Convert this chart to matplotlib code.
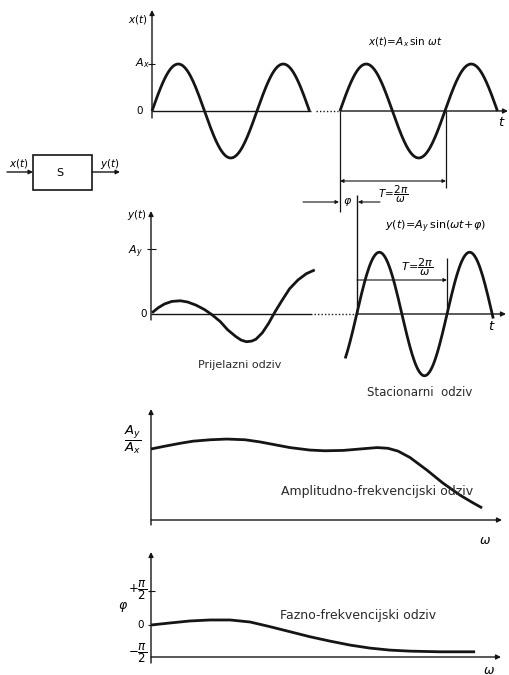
import numpy as np
import matplotlib.pyplot as plt
from matplotlib.patches import Rectangle

plt.rcParams['mathtext.fontset'] = 'dejavusans'
plt.rcParams['font.family'] = 'DejaVu Sans'

# ulazni signal x(t): dva komada sinusa (vrijeme u periodama, amplituda u A_x)
x_segments = [(0.0, 1.5), (1.79, 3.29)]
x_amp = 1.0

# prijelazni odziv (ocitano sa slike), t u periodama, y u A_y
trans_t = [0.0, 0.06, 0.12, 0.19, 0.27, 0.34, 0.42, 0.50, 0.57, 0.65, 0.72, 0.80,
           0.85, 0.90, 0.95, 0.99, 1.05, 1.11, 1.17, 1.24, 1.31, 1.39, 1.47, 1.55]
trans_y = [0.02, 0.10, 0.16, 0.20, 0.21, 0.19, 0.14, 0.07, -0.01, -0.12, -0.25, -0.36,
           -0.415, -0.44, -0.43, -0.40, -0.30, -0.15, 0.03, 0.22, 0.40, 0.54, 0.64, 0.70]

# stacionarni odziv y(t) = A_y sin(wt + phi)
y_start, y_end = 1.84, 3.25
y_zero = 1.95
y_period = 0.86
y_amp = 0.98

# amplitudno-frekvencijski odziv: omega (proizvoljne jedinice), A_y/A_x
amp_w = [0.0, 0.4, 0.83, 1.2, 1.69, 2.17, 2.69, 3.11, 3.54, 3.97, 4.54, 4.97,
         5.49, 5.97, 6.46, 6.77, 7.06, 7.4, 7.89, 8.34, 8.83, 9.17, 9.46]
amp_r = [1.0, 1.04, 1.08, 1.11, 1.13, 1.14, 1.13, 1.10, 1.06, 1.02, 0.985, 0.975,
         0.98, 1.0, 1.02, 1.01, 0.97, 0.88, 0.70, 0.52, 0.35, 0.25, 0.17]

# fazno-frekvencijski odziv: phi u jedinicama pi/2
ph_w = [0.0, 0.54, 1.11, 1.69, 2.26, 2.83, 3.4, 3.97, 4.54, 5.11, 5.69, 6.26,
        6.83, 7.4, 8.26, 9.26]
ph_p = [0.0, 0.06, 0.12, 0.15, 0.15, 0.09, -0.05, -0.20, -0.35, -0.48, -0.60, -0.69,
        -0.75, -0.78, -0.80, -0.80]


def px_top(t, v):
    return 152 + 105 * np.asarray(t), 111 - 47 * np.asarray(v)

def px_y(t, v):
    return 152 + 105 * np.asarray(t), 314 - 63 * np.asarray(v)

def px_amp(w, r):
    return 151 + 35 * np.asarray(w), 520 - 71 * np.asarray(r)

def px_ph(w, p):
    return 151 + 35 * np.asarray(w), 625 - 33.5 * np.asarray(p)


fig = plt.figure(figsize=(5.09, 6.75), dpi=100)
ax = fig.add_axes([0, 0, 1, 1])
ax.set_xlim(0, 509)
ax.set_ylim(675, 0)
ax.axis('off')

ink = '#151515'
txt = '#2a2a2a'
LW = 2.0

def arrow(x1, y1, x2, y2, style='-|>', lw=1.0, ms=7):
    ax.annotate('', xy=(x2, y2), xytext=(x1, y1),
                arrowprops=dict(arrowstyle=style, lw=lw, color=ink,
                                mutation_scale=ms, shrinkA=0, shrinkB=0))

def line(xs, ys, lw=1.0, **kw):
    ax.plot(xs, ys, color=ink, lw=lw, solid_capstyle='butt', **kw)

# ---------- gornji dio: x(t) ----------
arrow(152, 118, 152, 10)
line([152, 311], [111, 111])
line([316, 338], [111, 111], ls=(0, (1, 1.5)))
arrow(340, 111, 508, 111)
line([148, 155], [64, 64], lw=0.8)
for a, b in x_segments:
    t = np.linspace(a, b, 200)
    xs, ys = px_top(t, x_amp * np.sin(2 * np.pi * (t - a)))
    line(xs, ys, lw=LW)

ax.text(138, 20, r'$x(t)$', fontsize=7.5, ha='center', va='center')
ax.text(150, 63, r'$A_x$', fontsize=8, ha='right', va='center')
ax.text(140, 111, '0', fontsize=7.5, ha='center', va='center')
ax.text(405, 42, r'$x(t)\!=\!A_x\,\sin\,\omega t$', fontsize=7.5, ha='center', va='center')
ax.text(502, 123, r'$t$', fontsize=9.5, ha='center', va='center')

# kotiranje T i phi
line([340, 340], [111, 212], lw=0.9)
line([446, 446], [111, 188], lw=0.9)
arrow(340, 181, 446, 181, style='<|-|>', lw=0.8, ms=5)
ax.text(393, 194, r'$T\!=\!\dfrac{2\pi}{\omega}$', fontsize=7.5, ha='center', va='center')
arrow(303, 202, 339, 202, lw=0.8, ms=5)
arrow(380, 202, 358, 202, lw=0.8, ms=5)
ax.text(348, 202, r'$\varphi$', fontsize=8, ha='center', va='center')
line([357, 357], [195, 314], lw=1.0)

# blok shema
ax.add_patch(Rectangle((33, 155), 59, 35, fill=False, ec=ink, lw=1.2))
ax.text(60, 173, 'S', fontsize=8, ha='center', va='center')
arrow(7, 172, 33, 172, lw=1.0, ms=6)
arrow(92, 172, 120, 172, lw=1.0, ms=6)
ax.text(19, 164, r'$x(t)$', fontsize=7.5, ha='center', va='center')
ax.text(110, 164, r'$y(t)$', fontsize=7.5, ha='center', va='center')

# ---------- drugi dio: y(t) ----------
arrow(151, 320, 151, 211)
line([147, 156], [249, 249], lw=0.8)
line([151, 312], [314, 314])
line([314, 355], [314, 314], ls=(0, (1, 1.5)))
arrow(357, 314, 506, 314)
line(*px_y(trans_t, trans_y), lw=LW, solid_joinstyle='round')
t = np.linspace(y_start, y_end, 200)
line(*px_y(t, y_amp * np.sin(2 * np.pi * (t - y_zero) / y_period)), lw=LW)

ax.text(137, 215, r'$y(t)$', fontsize=7.5, ha='center', va='center')
ax.text(135, 252, r'$A_y$', fontsize=8, ha='center', va='center')
ax.text(144, 314, '0', fontsize=7.5, ha='center', va='center')
ax.text(492, 327, r'$t$', fontsize=9.5, ha='center', va='center')
ax.text(436, 227, r'$y(t)\!=\!A_y\,\sin(\omega t\!+\!\varphi)$', fontsize=8, ha='center', va='center')
arrow(357, 280, 447, 280, lw=0.8, ms=5)
line([447, 447], [258, 314], lw=0.9)
ax.text(417, 267, r'$T\!=\!\dfrac{2\pi}{\omega}$', fontsize=8, ha='center', va='center')
ax.text(240, 365, 'Prijelazni odziv', fontsize=8, ha='center', va='center', color=txt)
ax.text(420, 393, 'Stacionarni  odziv', fontsize=8.5, ha='center', va='center', color=txt)

# ---------- treci dio: amplitudno-frekvencijski ----------
arrow(151, 525, 151, 409)
arrow(151, 520, 502, 520)
line(*px_amp(amp_w, amp_r), lw=LW, solid_joinstyle='round')
ax.text(133, 440, r'$\dfrac{A_y}{A_x}$', fontsize=9.5, ha='center', va='center')
ax.text(377, 492, 'Amplitudno-frekvencijski odziv', fontsize=9, ha='center', va='center', color=txt)
ax.text(485, 540, r'$\omega$', fontsize=9, ha='center', va='center')

# ---------- cetvrti dio: fazno-frekvencijski ----------
arrow(151, 663, 151, 552)
arrow(151, 657, 501, 657)
line([148, 155], [591, 591], lw=0.8)
line([148, 155], [625, 625], lw=0.8)
line(*px_ph(ph_w, ph_p), lw=LW, solid_joinstyle='round')
ax.text(147, 590, r'$+\dfrac{\pi}{2}$', fontsize=8.5, ha='right', va='center')
ax.text(123, 607, r'$\varphi$', fontsize=9, ha='center', va='center')
ax.text(141, 625, '0', fontsize=7.5, ha='center', va='center')
ax.text(147, 653, r'$-\dfrac{\pi}{2}$', fontsize=8.5, ha='right', va='center')
ax.text(358, 615, 'Fazno-frekvencijski odziv', fontsize=9, ha='center', va='center', color=txt)
ax.text(489, 670, r'$\omega$', fontsize=9, ha='center', va='center')

fig.savefig('out.png', dpi=100, facecolor='white')
